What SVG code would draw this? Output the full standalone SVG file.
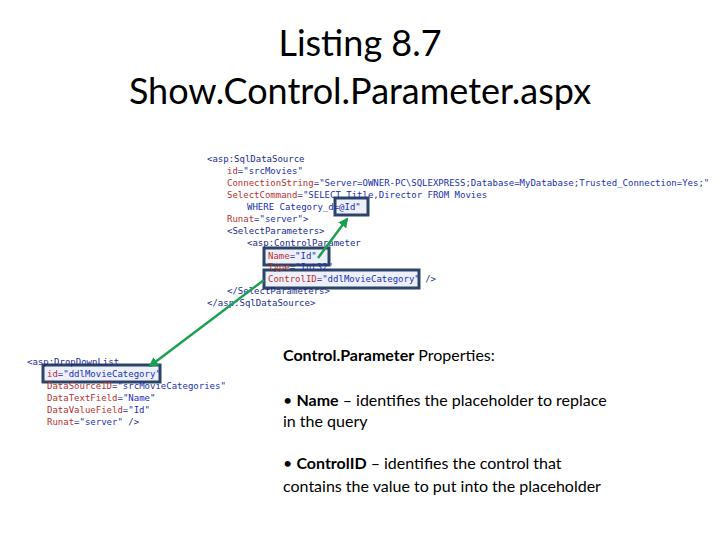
<svg xmlns="http://www.w3.org/2000/svg" width="720" height="540" viewBox="0 0 720 540">
<style>
.t{font-family:Lato,"Liberation Sans",sans-serif;font-size:36px;fill:#000;text-anchor:middle}
.c{font-family:"DejaVu Sans Mono","Liberation Mono",monospace;font-size:9px;fill:#1a2a90}
.a{fill:#b83030}.v{fill:#2030b0}
.p{font-family:Lato,"Liberation Sans",sans-serif;font-size:16px;fill:#000}
.b{font-weight:bold}
.hb{fill:#dfe3f5;fill-opacity:0.55;stroke:#2c4468;stroke-width:3}
.ar{stroke:#1aa050;stroke-width:2.5;fill:none;marker-end:url(#m)}
</style>
<defs><marker id="m" viewBox="0 0 10 10" refX="8" refY="5" markerWidth="4" markerHeight="4" orient="auto"><path d="M0,0L10,5L0,10z" fill="#1aa050"/></marker></defs>
<g id="title"><text class="t" x="360" y="56">Listing 8.7</text><text class="t" x="360" y="104">Show.Control.Parameter.aspx</text></g>
<g id="code1">
<rect class="hb" x="335" y="198" width="33" height="17"/>
<rect class="hb" x="264" y="248" width="65" height="17"/>
<rect class="hb" x="264" y="270" width="155" height="18"/>
<text class="c" x="207" y="162">&lt;asp:SqlDataSource</text>
<text class="c" x="227" y="174"><tspan class="a">id</tspan>=<tspan class="v">"srcMovies"</tspan></text>
<text class="c" x="227" y="186"><tspan class="a">ConnectionString</tspan>=<tspan class="v">"Server=OWNER-PC\SQLEXPRESS;Database=MyDatabase;Trusted_Connection=Yes;"</tspan></text>
<text class="c" x="227" y="198"><tspan class="a">SelectCommand</tspan>=<tspan class="v">"SELECT Title,Director FROM Movies</tspan></text>
<text class="c" x="247" y="210"><tspan class="v">WHERE Category_d=@Id"</tspan></text>
<text class="c" x="227" y="222"><tspan class="a">Runat</tspan>=<tspan class="v">"server"</tspan>&gt;</text>
<text class="c" x="227" y="234">&lt;SelectParameters&gt;</text>
<text class="c" x="247" y="246">&lt;asp:ControlParameter</text>
<text class="c" x="268" y="259"><tspan class="a">Name</tspan>=<tspan class="v">"Id"</tspan></text>
<text class="c" x="268" y="270"><tspan class="a">Type</tspan>=<tspan class="v">"Int32"</tspan></text>
<text class="c" x="268" y="282"><tspan class="a">ControlID</tspan>=<tspan class="v">"ddlMovieCategory"</tspan> /&gt;</text>
<text class="c" x="227" y="294">&lt;/SelectParameters&gt;</text>
<text class="c" x="207" y="306">&lt;/asp:SqlDataSource&gt;</text>
</g>
<g id="code2">
<rect class="hb" x="43" y="365" width="117" height="17"/>
<text class="c" x="27" y="365">&lt;asp:DropDownList</text>
<text class="c" x="47" y="377"><tspan class="a">id</tspan>=<tspan class="v">"ddlMovieCategory"</tspan></text>
<text class="c" x="47" y="389"><tspan class="a">DataSourceID</tspan>=<tspan class="v">"srcMovieCategories"</tspan></text>
<text class="c" x="47" y="401"><tspan class="a">DataTextField</tspan>=<tspan class="v">"Name"</tspan></text>
<text class="c" x="47" y="413"><tspan class="a">DataValueField</tspan>=<tspan class="v">"Id"</tspan></text>
<text class="c" x="47" y="425"><tspan class="a">Runat</tspan>=<tspan class="v">"server"</tspan> /&gt;</text>
</g>
<g id="connectors">
<line class="ar" x1="318" y1="258" x2="347" y2="219"/>
<line class="ar" x1="264" y1="280" x2="150" y2="366"/>
</g>
<g id="props">
<text class="p" x="283" y="361"><tspan class="b">Control.Parameter</tspan> Properties:</text>
<text class="p" x="283" y="406">• <tspan class="b">Name</tspan> – identifies the placeholder to replace</text>
<text class="p" x="283" y="427">in the query</text>
<text class="p" x="283" y="469">• <tspan class="b">ControlID</tspan> – identifies the control that</text>
<text class="p" x="283" y="492">contains the value to put into the placeholder</text>
</g>
</svg>
